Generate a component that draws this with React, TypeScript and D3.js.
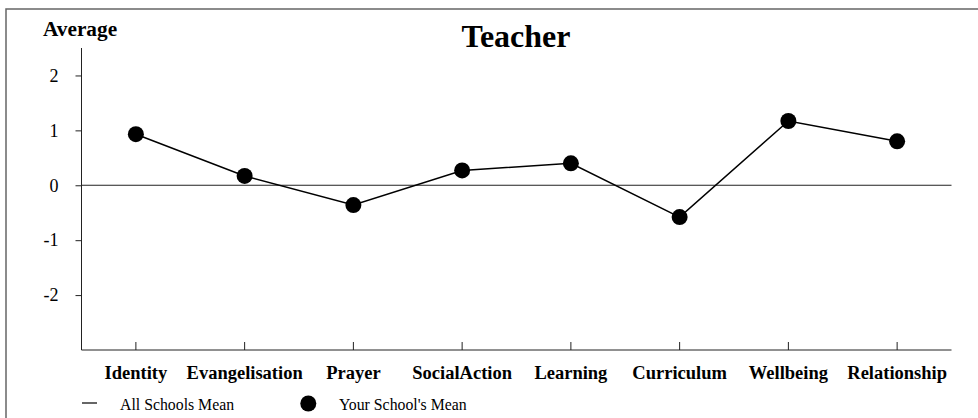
import React, { useEffect, useRef } from "react";
import * as d3 from "d3";

const categories = ["Identity", "Evangelisation", "Prayer", "SocialAction", "Learning", "Curriculum", "Wellbeing", "Relationship"];
const schoolMean = [0.93, 0.17, -0.36, 0.27, 0.4, -0.58, 1.17, 0.8];
const allSchoolsMean = [0, 0, 0, 0, 0, 0, 0, 0];
const yTicks = [-2, -1, 0, 1, 2];
const title = "Teacher";
const yLabel = "Average";
const legendLabels = ["All Schools Mean", "Your School's Mean"];

const W = 978;
const H = 418;
const FONT = "'Liberation Serif', 'Times New Roman', serif";

export default function App() {
  const ref = useRef<SVGSVGElement>(null);

  useEffect(() => {
    const svg = d3.select(ref.current);
    svg.selectAll("*").remove();

    const left = 81.5, right = 951.5, top = 48, bottom = 350;

    // frame
    svg.append("rect")
      .attr("x", 6).attr("y", 9).attr("width", W).attr("height", H)
      .attr("fill", "none").attr("stroke", "#666").attr("stroke-width", 1.5);

    const x = d3.scaleBand<string>().domain(categories).range([left, right]);
    const y = d3.scaleLinear().domain([-3, 2.5]).range([bottom, top]);

    // title
    svg.append("text").attr("x", 516).attr("y", 47).attr("text-anchor", "middle")
      .attr("font-family", FONT).attr("font-weight", "bold").attr("font-size", 32)
      .text(title);
    svg.append("text").attr("x", 43).attr("y", 36)
      .attr("font-family", FONT).attr("font-weight", "bold").attr("font-size", 21.3)
      .text(yLabel);

    // y axis
    const yAxis = svg.append("g").attr("transform", `translate(${left},0)`)
      .call(d3.axisLeft(y).tickValues(yTicks).tickSize(6).tickPadding(17).tickFormat(d => String(d)));
    yAxis.attr("font-family", FONT);
    yAxis.select(".domain").attr("stroke", "#222").attr("d", `M0,${top}V${bottom}`);
    yAxis.selectAll(".tick line").attr("stroke", "#222");
    yAxis.selectAll("text").attr("font-family", FONT).attr("font-size", 18).attr("fill", "#000");

    // x axis
    const xAxis = svg.append("g").attr("transform", `translate(0,${bottom})`)
      .call(d3.axisBottom(x).tickSize(0).tickPadding(16));
    xAxis.attr("font-family", FONT);
    xAxis.select(".domain").attr("stroke", "#222").attr("d", `M${left},0H${right}`);
    xAxis.selectAll(".tick").append("line").attr("y1", 0).attr("y2", -8).attr("stroke", "#222");
    xAxis.selectAll("text").attr("font-family", FONT).attr("font-size", 18.5)
      .attr("font-weight", "bold").attr("fill", "#000");

    const cx = (c: string) => (x(c) as number) + x.bandwidth() / 2;

    // all schools mean line (zero)
    svg.append("path")
      .attr("d", d3.line<number>().x((_, i) => i === 0 ? left : right).y(v => y(v))([allSchoolsMean[0], allSchoolsMean[allSchoolsMean.length - 1]]) as string)
      .attr("stroke", "#222").attr("stroke-width", 1.2).attr("fill", "none");

    // school mean line
    svg.append("path")
      .attr("d", d3.line<number>().x((_, i) => cx(categories[i])).y(v => y(v))(schoolMean) as string)
      .attr("stroke", "#000").attr("stroke-width", 1.5).attr("fill", "none");

    svg.append("g").selectAll("circle").data(schoolMean).join("circle")
      .attr("cx", (_, i) => cx(categories[i])).attr("cy", d => y(d)).attr("r", 8).attr("fill", "#000");

    // legend
    svg.append("line").attr("x1", 82).attr("x2", 97).attr("y1", 403).attr("y2", 403)
      .attr("stroke", "#000").attr("stroke-width", 1.2);
    svg.append("text").attr("x", 120).attr("y", 410).attr("font-family", FONT).attr("font-size", 15.8)
      .text(legendLabels[0]);
    svg.append("circle").attr("cx", 308.3).attr("cy", 403.5).attr("r", 8).attr("fill", "#000");
    svg.append("text").attr("x", 339).attr("y", 410).attr("font-family", FONT).attr("font-size", 15.8)
      .text(legendLabels[1]);
  }, []);

  return (
    <svg ref={ref} width={W} height={H}
      style={{ position: "absolute", left: 0, top: 0, background: "#fff", display: "block" }} />
  );
}
